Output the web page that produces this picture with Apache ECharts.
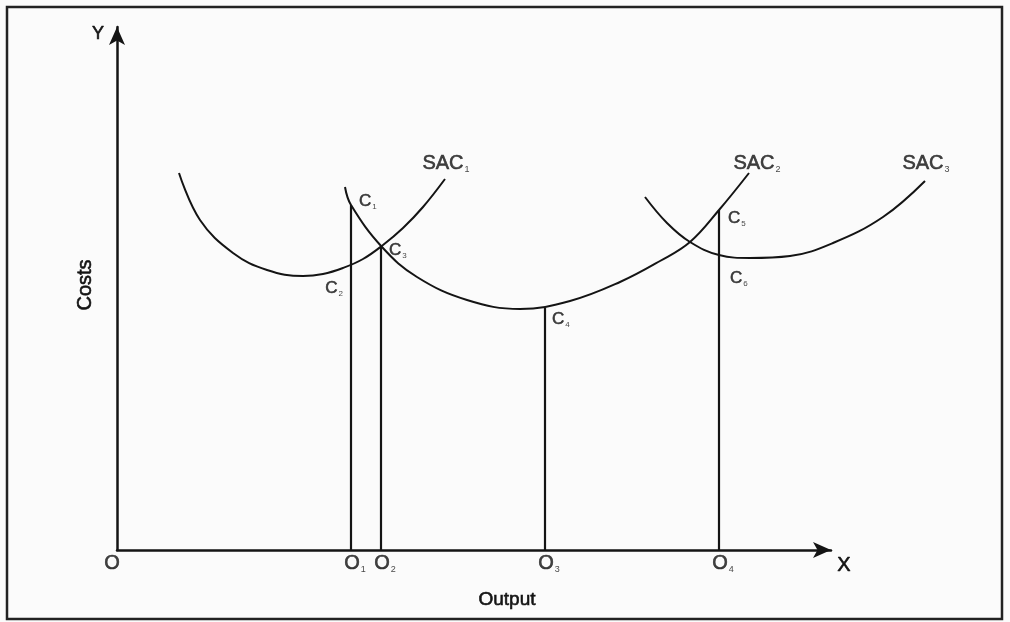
<!DOCTYPE html>
<html>
<head>
<meta charset="utf-8">
<script src="https://cdn.jsdelivr.net/npm/echarts@6/dist/echarts.min.js"></script>
<style>
  html, body { margin: 0; padding: 0; background: #fbfbfb; }
  #chart { width: 1010px; height: 622px; }
</style>
</head>
<body>
<div id="chart"></div>
<script>
// curve points (output, cost)
const sac1X = [62, 83, 116, 150, 186, 206, 226, 246, 266, 286, 306, 328];
const sac1Y = [377, 330, 297, 280, 274, 276, 282, 291, 305, 322, 343, 371];
const sac2X = [228, 234, 265, 300, 350, 403, 453, 503, 543, 573, 602, 632];
const sac2Y = [363, 345, 303, 273, 250, 241, 249, 268, 289, 308, 340, 377];
const sac3X = [528, 550, 573, 602, 633, 673, 716, 766, 808];
const sac3Y = [353, 327, 308, 295, 292, 294, 307, 333, 369];

const curveNames = ['SAC1', 'SAC2', 'SAC3'];

// output levels and vertical lines up to the curve
const outputNames = ['O', 'O1', 'O2', 'O3', 'O4'];
const outputX = [0, 234, 264, 428, 602];
const dropX = [234, 264, 428, 602];
const dropTop = [345, 303, 242, 340];

// cost points
const pointNames = ['C1', 'C2', 'C3', 'C4', 'C5', 'C6'];
const pointX = [234, 234, 264, 428, 602, 602];
const pointY = [345, 284, 303, 242, 340, 295];

const xMax = 714;
const xMaxCurves = 880; // SAC3 runs past the end of the X axis
const yMax = 523;

const fontFamily = "'Liberation Sans', Arial, sans-serif";
const ink = '#141414';
const inkStroke = 0.6; // scan text looks heavier than plain regular

const zip = (xs, ys) => xs.map((x, i) => [x, ys[i]]);
const sub = (name) => {
  const m = name.match(/^([A-Z]+)(\d*)$/);
  return m[2] ? `{m|${m[1]}}{s|${m[2]}}` : `{m|${m[1]}}`;
};
const richText = (size, subSize, pad) => ({
  m: { fontSize: size, fontFamily, color: ink, textBorderColor: ink, textBorderWidth: inkStroke },
  s: { fontSize: subSize, fontFamily, color: ink, padding: [pad, 0, 0, 1] },
});
const plainText = (text, fontSize) => ({
  text,
  fontSize,
  fontFamily,
  fill: ink,
  stroke: ink,
  lineWidth: inkStroke,
  align: 'center',
  verticalAlign: 'middle',
});

const hiddenAxis = (max, gridIndex) => ({
  type: 'value',
  gridIndex,
  min: 0,
  max,
  show: false,
});

const chart = echarts.init(document.getElementById('chart'));

const curveSeries = [
  [sac1X, sac1Y],
  [sac2X, sac2Y],
  [sac3X, sac3Y],
].map(([xs, ys], i) => ({
  name: curveNames[i],
  type: 'line',
  xAxisIndex: 1,
  yAxisIndex: 1,
  data: zip(xs, ys),
  smooth: 0.4,
  symbol: 'none',
  silent: true,
  lineStyle: { color: ink, width: 2 },
  z: 3,
}));

const dropSeries = dropX.map((x, i) => ({
  type: 'line',
  data: [[x, 0], [x, dropTop[i]]],
  symbol: 'none',
  silent: true,
  lineStyle: { color: ink, width: 2.2 },
  z: 2,
}));

// label placement per curve end / point / output tick
const curveLabelOffsets = [[1, 0], [8, 6], [1, -2]];
const pointLabelPos = ['right', 'left', 'right', 'right', 'right', 'right'];
const pointLabelOffsets = [[3, -4], [-3, 22], [3, 3], [2, 11], [4, 8], [6, 23]];
const outputLabelOffsets = [[-5, 0], [4, 0], [4, 0], [4, 0], [4, 0]];

const axisStyle = {
  show: true,
  symbol: ['none', 'arrow'],
  symbolSize: [12, 18],
  lineStyle: { color: ink, width: 2.5 },
};

const option = {
  backgroundColor: '#fbfbfb',
  animation: false,
  textStyle: { fontFamily },
  grid: [
    { left: 117, top: 27, width: xMax, height: yMax },
    { left: 117, top: 27, width: xMaxCurves, height: yMax },
  ],
  xAxis: [
    {
      type: 'value',
      gridIndex: 0,
      min: 0,
      max: xMax,
      axisLine: axisStyle,
      axisTick: { show: false },
      axisLabel: { show: false },
      splitLine: { show: false },
    },
    hiddenAxis(xMaxCurves, 1),
  ],
  yAxis: [
    {
      type: 'value',
      gridIndex: 0,
      min: 0,
      max: yMax,
      axisLine: axisStyle,
      axisTick: { show: false },
      axisLabel: { show: false },
      splitLine: { show: false },
    },
    hiddenAxis(yMax, 1),
  ],
  graphic: [
    {
      type: 'rect',
      shape: { x: 7, y: 7, width: 995, height: 612 },
      style: { fill: 'none', stroke: '#222', lineWidth: 2.5 },
      silent: true,
    },
    { type: 'text', x: 98, y: 34, style: plainText('Y', 18) },
    { type: 'text', x: 844, y: 565, style: plainText('X', 20) },
    { type: 'text', x: 85, y: 285, rotation: Math.PI / 2, style: plainText('Costs', 20) },
    { type: 'text', x: 507, y: 600, style: plainText('Output', 19) },
  ],
  series: [
    ...curveSeries,
    ...dropSeries,
    {
      // SAC names above the right end of each curve
      type: 'scatter',
      xAxisIndex: 1,
      yAxisIndex: 1,
      symbolSize: 0,
      silent: true,
      data: curveSeries.map((s, i) => {
        const end = s.data[s.data.length - 1];
        return {
          value: end,
          label: {
            show: true,
            position: 'top',
            offset: curveLabelOffsets[i],
            formatter: sub(curveNames[i]),
            rich: richText(20, 9, 12),
          },
        };
      }),
    },
    {
      type: 'scatter',
      symbolSize: 0,
      silent: true,
      data: pointNames.map((n, i) => ({
        value: [pointX[i], pointY[i]],
        label: {
          show: true,
          position: pointLabelPos[i],
          offset: pointLabelOffsets[i],
          formatter: sub(n),
          rich: richText(17, 8, 11),
        },
      })),
    },
    {
      type: 'scatter',
      symbolSize: 0,
      silent: true,
      data: outputNames.map((n, i) => ({
        value: [outputX[i], 0],
        label: {
          show: true,
          position: 'bottom',
          distance: 3,
          offset: outputLabelOffsets[i],
          formatter: sub(n),
          rich: richText(20, 9, 12),
        },
      })),
    },
  ],
};

chart.setOption(option);
window.addEventListener('resize', () => chart.resize());
</script>
</body>
</html>
